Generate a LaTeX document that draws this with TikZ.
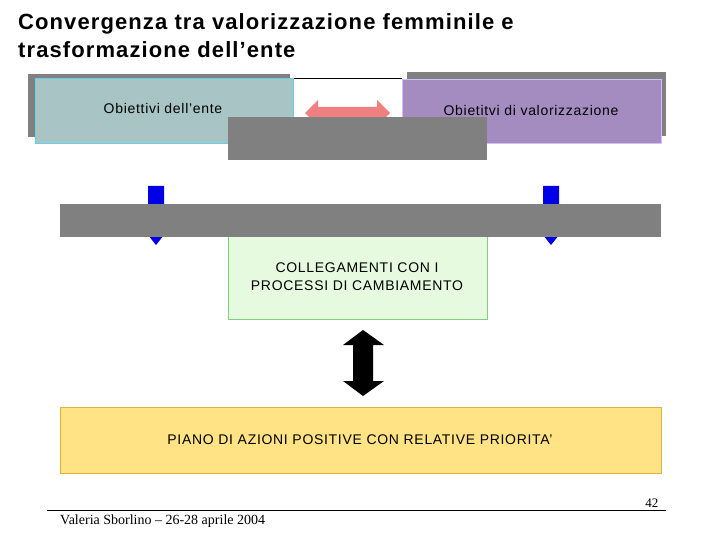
\documentclass[tikz,border=0pt]{standalone}
\usepackage{fontspec}
\setmainfont{Liberation Sans}
\newfontfamily\serifft{Liberation Serif}
\newfontfamily\widef[LetterSpace=5]{Liberation Sans}
\definecolor{teal1}{RGB}{168,196,196}
\definecolor{tealb}{RGB}{100,210,230}
\definecolor{purp}{RGB}{164,140,192}
\definecolor{purpb}{RGB}{210,190,250}
\definecolor{pinkar}{RGB}{240,128,128}
\definecolor{grn}{RGB}{230,250,224}
\definecolor{grnb}{RGB}{128,208,128}
\definecolor{yel}{RGB}{255,227,132}
\definecolor{yelb}{RGB}{224,176,64}
\definecolor{gry}{RGB}{128,128,128}
\definecolor{blu}{RGB}{0,0,230}
\begin{document}
\begin{tikzpicture}[x=1pt,y=-1pt,
  lbl/.style={font=\widef\fontsize{14}{18}\selectfont, align=center}]
\useasboundingbox[fill=white] (0,0) rectangle (720,540);
\node[anchor=west, align=left, inner sep=0, font=\widef\fontsize{22}{28}\selectfont\bfseries] (title) at (18,36) {Convergenza tra valorizzazione femminile e\\trasformazione dell’ente};
\fill[gry] (28,74) rectangle (290,137);
\fill[gry] (407,72) rectangle (666,136);
\draw (293,78) -- (402,78);
\node[draw=tealb, fill=teal1, minimum width=258pt, minimum height=65pt, anchor=north west, inner sep=0] (ente) at (35,78) {};
\node[lbl] (entet) at (163,108) {Obiettivi dell’ente};
\node[draw=purpb, fill=purp, minimum width=259pt, minimum height=64pt, anchor=north west, inner sep=0] (valo) at (402,79) {};
\node[lbl] (valot) at (531,110) {Obietitvi di valorizzazione};
\fill[pinkar] (305,113) -- (318,100) -- (318,107) -- (377,107) -- (377,100) -- (390,113) -- (377,126) -- (318,126) -- cycle;
\fill[gry] (228,117) rectangle (487,160);
\fill[blu] (148,186) -- (164,186) -- (164,230) -- (168,230) -- (156,245) -- (144,230) -- (148,230) -- cycle;
\fill[blu] (543,186) -- (559,186) -- (559,230) -- (563,230) -- (551,245) -- (539,230) -- (543,230) -- cycle;
\node[draw=grnb, fill=grn, minimum width=259pt, minimum height=85pt, anchor=north west, inner sep=0] (coll) at (228,234) {};
\node[lbl] (collt) at (357,277) {COLLEGAMENTI CON I\\PROCESSI DI CAMBIAMENTO};
\fill[gry] (60,204) rectangle (661,237);
\fill[black] (363,330) -- (384,345) -- (373,345) -- (373,381) -- (384,381) -- (363,396) -- (343,381) -- (353,381) -- (353,345) -- (343,345) -- cycle;
\node[draw=yelb, fill=yel, minimum width=601pt, minimum height=66pt, anchor=north west, inner sep=0] (piano) at (60,407) {};
\node[lbl] (pianot) at (360,440) {PIANO DI AZIONI POSITIVE CON RELATIVE PRIORITA’};
\draw[line width=0.6pt] (47,510) -- (666,510);
\node[anchor=east, font=\serifft\fontsize{13}{15}\selectfont] (pg) at (662,503) {42};
\node[anchor=west, inner sep=0, font=\serifft\fontsize{14}{16}\selectfont] (auth) at (60,521) {Valeria Sborlino – 26-28 aprile 2004};
\end{tikzpicture}
\end{document}
